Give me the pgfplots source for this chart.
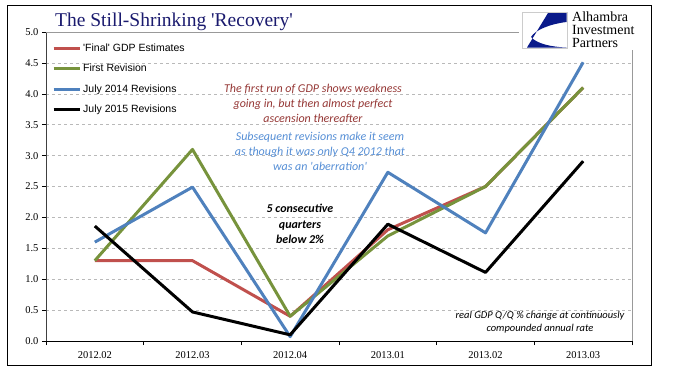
\documentclass[border=0pt]{standalone}
\usepackage{pgfplots}
\pgfplotsset{compat=1.18}
\usepackage{fontspec}
\setmainfont{Liberation Serif}
\newfontfamily\arial{Liberation Sans}
\newfontfamily\calibri{Carlito}
\definecolor{sred}{HTML}{C0504D}
\definecolor{sgreen}{HTML}{77933C}
\definecolor{sblue}{HTML}{4F81BD}
\definecolor{tred}{HTML}{953735}
\definecolor{tblue}{HTML}{558ED5}
\definecolor{navy}{HTML}{1A1A6E}
\definecolor{logoblue}{HTML}{0A1A8A}
\newcommand{\sq}{\textquotesingle}
\begin{document}
\begin{tikzpicture}
\path[use as bounding box] (0pt,0pt) rectangle (680pt,-375pt);
\begin{axis}[
  at={(46pt,-341pt)}, anchor=south west,
  scale only axis, width=586pt, height=309pt,
  xmin=-0.5, xmax=5.5, ymin=0, ymax=5,
  xtick={0,...,5},
  xticklabels={2012.02,2012.03,2012.04,2013.01,2013.02,2013.03},
  minor xtick={-0.5,0.5,...,5.5},
  major x tick style={draw=none},
  ytick={0,0.5,...,5},
  yticklabel style={/pgf/number format/.cd, fixed, fixed zerofill, precision=1},
  xticklabel style={yshift=-3pt},
  /pgf/number format/assume math mode=true,
  tick label style={font=\fontsize{10.5}{12}\selectfont, text=black},
  tick align=outside,
  major tick length=4pt, minor tick length=4pt,
  tick style={black, line width=0.6pt},
  ymajorgrids,
  grid style={dashed, gray!55, line width=0.5pt},
  axis x line*=bottom, axis y line*=left,
  x axis line style={black, line width=0.8pt},
  y axis line style={black!75, line width=0.8pt},
  clip=false,
  legend style={at={(0,1)}, anchor=north west, xshift=6pt, yshift=-10pt,
    draw=none, fill=none, inner sep=0pt, row sep=8pt, column sep=1pt,
    font=\arial\fontsize{10.5}{12}\selectfont,
    nodes={inner sep=1pt, text height=8pt, text depth=2.5pt}},
  legend cell align=left,
  legend image code/.code={\draw[#1] (0pt,0pt) -- (26pt,0pt);},
  every axis plot/.append style={line width=3pt, line join=round},
]
\draw[gray!80, line width=0.8pt] (rel axis cs:0,1) -- (rel axis cs:1,1) -- (rel axis cs:1,0);
\addplot[sred] coordinates {(0,1.3) (1,1.3) (2,0.4) (3,1.8) (4,2.5) (5,4.1)};
\addlegendentry{\sq Final\sq\ GDP Estimates}
\addplot[sgreen] coordinates {(0,1.3) (1,3.1) (2,0.4) (3,1.7) (4,2.5) (5,4.1)};
\addlegendentry{First Revision}
\addplot[sblue] coordinates {(0,1.6) (1,2.49) (2,0.07) (3,2.73) (4,1.75) (5,4.51)};
\addlegendentry{July 2014 Revisions}
\addplot[black] coordinates {(0,1.86) (1,0.47) (2,0.1) (3,1.89) (4,1.11) (5,2.91)};
\addlegendentry{July 2015 Revisions}
\end{axis}
% title
\node[anchor=base west, inner sep=0pt, text=navy, font=\fontsize{19.5}{22}\selectfont] at (55pt,-26pt) {The Still-Shrinking \sq Recovery\sq};
% annotations
\node[align=center, text=tred, font=\calibri\itshape\fontsize{12}{15}\selectfont] at (313pt,-103pt)
  {The first run of GDP shows weakness\\going in, but then almost perfect\\ascension thereafter};
\node[align=center, text=tblue, font=\calibri\itshape\fontsize{12}{15}\selectfont] at (320pt,-151pt)
  {Subsequent revisions make it seem\\as though it was only Q4 2012 that\\was an \sq aberration\sq};
\node[align=center, text=black, font=\calibri\itshape\bfseries\fontsize{12}{15.5}\selectfont] at (300pt,-224pt)
  {5 consecutive\\quarters\\below 2\%};
\node[align=center, text=black, font=\calibri\itshape\fontsize{10.5}{12.7}\selectfont] at (540pt,-322.5pt)
  {real GDP Q/Q \% change at continuously\\compounded annual rate};
% logo
\fill[white] (519pt,-7pt) rectangle (648pt,-50pt);
\draw[gray!40, line width=0.6pt] (522pt,-12pt) rectangle (567pt,-48pt);
\fill[logoblue] (548pt,-13pt) -- (566.5pt,-13pt) -- (566.5pt,-22pt)
  .. controls (550pt,-24pt) and (535pt,-30pt) .. (531pt,-37pt)
  .. controls (537pt,-44pt) and (552pt,-47pt) .. (566.5pt,-47.5pt)
  -- (527pt,-47.5pt) -- cycle;
\node[anchor=base west, inner sep=0pt, font=\fontsize{14}{12.5}\selectfont] at (572pt,-21.5pt) {Alhambra};
\node[anchor=base west, inner sep=0pt, font=\fontsize{14}{12.5}\selectfont] at (572pt,-34.5pt) {Investment};
\node[anchor=base west, inner sep=0pt, font=\fontsize{14}{12.5}\selectfont] at (572pt,-47.5pt) {Partners};
% frame
\draw[black, line width=1pt] (7pt,-5pt) rectangle (651pt,-365pt);
\end{tikzpicture}
\end{document}
